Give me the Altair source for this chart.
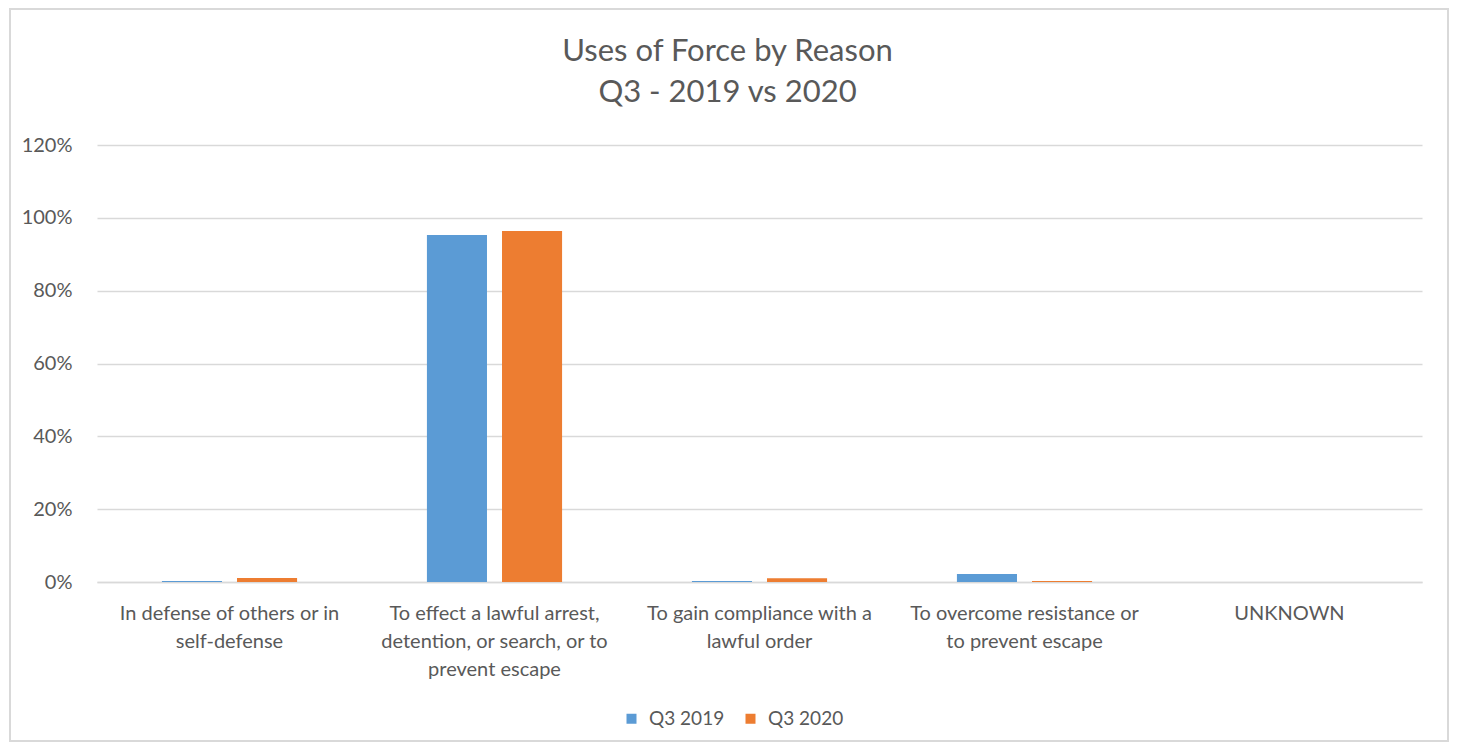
import altair as alt
import pandas as pd

categories = [
    "In defense of others or in|self-defense",
    "To effect a lawful arrest,|detention, or search, or to|prevent escape",
    "To gain compliance with a|lawful order",
    "To overcome resistance or|to prevent escape",
    "UNKNOWN",
]
series = ["Q3 2019", "Q3 2020"]
values_2019 = [0.003, 0.953, 0.003, 0.022, 0.0]
values_2020 = [0.011, 0.964, 0.010, 0.003, 0.0]

rows = []
for c, v in zip(categories, values_2019):
    rows.append({"category": c, "series": series[0], "value": v})
for c, v in zip(categories, values_2020):
    rows.append({"category": c, "series": series[1], "value": v})
df = pd.DataFrame(rows)

FONT = "Lato"
GRAY = "#595959"

bars = alt.Chart(df).mark_bar().encode(
    x=alt.X("category:N", sort=categories, title=None,
            scale=alt.Scale(paddingInner=0.49, paddingOuter=0.245),
            axis=alt.Axis(labelExpr="split(datum.label, '|')", labelAngle=0,
                          labelFontSize=20, labelColor=GRAY, labelFont=FONT,
                          labelLineHeight=28, labelPadding=21, ticks=False,
                          labelLimit=0,
                          domainColor="#d9d9d9", domainWidth=1.5, grid=False)),
    xOffset=alt.XOffset("series:N", sort=series,
                        scale=alt.Scale(paddingInner=0.2)),
    y=alt.Y("value:Q", title=None,
            scale=alt.Scale(domain=[0, 1.2]),
            axis=alt.Axis(format=".0%", values=[0, 0.2, 0.4, 0.6, 0.8, 1.0, 1.2],
                          labelFontSize=20, labelColor=GRAY, labelFont=FONT,
                          labelPadding=25, ticks=False, domain=False,
                          gridColor="#d9d9d9", gridWidth=1.5)),
    color=alt.Color("series:N", sort=series,
                    scale=alt.Scale(domain=series, range=["#5B9BD5", "#ED7D31"]),
                    legend=alt.Legend(orient="none", legendX=525, legendY=564,
                                      direction="horizontal", title=None,
                                      symbolType="square", symbolSize=100,
                                      labelFontSize=19, labelColor=GRAY, labelFont=FONT,
                                      columnPadding=16, labelOffset=8)),
)

frame = alt.Chart(df).mark_rect(fill=None, stroke="#d9d9d9", strokeWidth=2).encode(
    x=alt.value(-87), x2=alt.value(1351), y=alt.value(-136), y2=alt.value(596)
)

chart = alt.layer(frame, bars).properties(
    width=1325,
    height=437,
    autosize=alt.AutoSizeParams(type="none"),
    padding={"left": 89, "top": 137, "right": 28, "bottom": 160},
    title=alt.TitleParams(["Uses of Force by Reason", "Q3 - 2019 vs 2020"],
                          fontSize=31, font=FONT, color=GRAY, fontWeight="normal",
                          lineHeight=41, anchor="middle", frame="group",
                          offset=-101, dx=-32),
).configure_view(stroke=None)

chart.save("out.html", embed_options={"renderer": "svg", "actions": False})
